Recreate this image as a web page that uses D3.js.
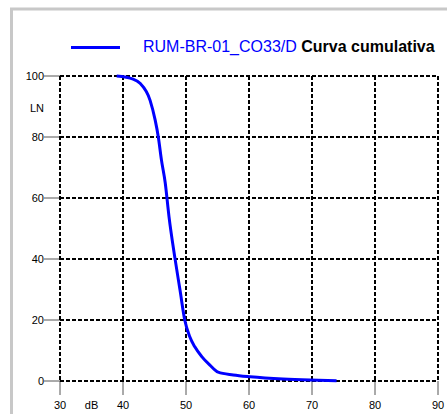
<!DOCTYPE html>
<meta charset="utf-8">
<style>
    body {
        margin: 0;
        background: #fff;
        font-family: "Liberation Sans", Arial, sans-serif;
    }

    .grid line {
        stroke: #000;
        stroke-width: 2;
        stroke-dasharray: 4, 2;
    }

    .tick-mark {
        stroke: #555;
        stroke-width: 1;
    }

    .tick-label {
        font-size: 11px;
        fill: #000;
    }
</style>

<body>
    <svg width="447" height="414"></svg>

    <script src="https://d3js.org/d3.v7.min.js"></script>
    <script>
        const dbValues = [39.0, 41.6, 42.7, 44.3, 45.1, 45.6, 46.1, 46.7, 47.3, 48.25, 49.05, 49.8, 50.6, 51.4, 52.5, 53.8, 55.1, 57.5, 60.2, 65.4, 69.7, 73.9];
        const lnValues = [100, 99, 97.6, 92, 85.6, 80.1, 72.5, 65, 53.9, 40.2, 29.8, 20, 14.5, 11.2, 8, 5.2, 2.9, 2.0, 1.4, 0.65, 0.3, 0.1];

        const xTicks = [30, 40, 50, 60, 70, 80, 90];
        const yTicks = [0, 20, 40, 60, 80, 100];

        const seriesName = "RUM-BR-01_CO33/D";
        const chartTitle = "Curva cumulativa";
        const xUnit = "dB";
        const yUnit = "LN";

        const svg = d3.select("svg");
        const margin = { top: 76, left: 60, right: 438, bottom: 381 };

        // cadre gris autour du graphique
        svg.append("rect")
            .attr("x", 11.5)
            .attr("y", 9)
            .attr("width", 460)
            .attr("height", 430)
            .attr("fill", "none")
            .attr("stroke", "#c8c8c8")
            .attr("stroke-width", 3);

        const x = d3.scaleLinear().domain([30, 90]).range([margin.left, margin.right]);
        const y = d3.scaleLinear().domain([0, 100]).range([margin.bottom, margin.top]);

        // graduations
        svg.append("g")
            .selectAll("line")
            .data(yTicks)
            .join("line")
            .attr("class", "tick-mark")
            .attr("x1", margin.left - 16)
            .attr("x2", margin.left)
            .attr("y1", d => y(d))
            .attr("y2", d => y(d));

        svg.append("g")
            .selectAll("line")
            .data(xTicks)
            .join("line")
            .attr("class", "tick-mark")
            .attr("x1", d => x(d))
            .attr("x2", d => x(d))
            .attr("y1", margin.bottom)
            .attr("y2", margin.bottom + 14);

        svg.append("g")
            .selectAll("text")
            .data(yTicks)
            .join("text")
            .attr("class", "tick-label")
            .attr("x", margin.left - 16)
            .attr("y", d => y(d))
            .attr("dy", "0.35em")
            .attr("text-anchor", "end")
            .text(d => d);

        svg.append("g")
            .selectAll("text")
            .data(xTicks)
            .join("text")
            .attr("class", "tick-label")
            .attr("x", d => x(d))
            .attr("y", margin.bottom + 28)
            .attr("text-anchor", "middle")
            .text(d => d);

        svg.append("text")
            .attr("class", "tick-label")
            .attr("x", x(35))
            .attr("y", margin.bottom + 28)
            .attr("text-anchor", "middle")
            .text(xUnit);

        svg.append("text")
            .attr("class", "tick-label")
            .attr("x", margin.left - 23)
            .attr("y", y(89.5))
            .attr("dy", "0.35em")
            .attr("text-anchor", "middle")
            .text(yUnit);

        // grille en pointillés
        const grid = svg.append("g").attr("class", "grid");
        grid.selectAll(".h")
            .data(yTicks)
            .join("line")
            .attr("class", "h")
            .attr("x1", margin.left)
            .attr("x2", margin.right)
            .attr("y1", d => y(d))
            .attr("y2", d => y(d));
        grid.selectAll(".v")
            .data(xTicks)
            .join("line")
            .attr("class", "v")
            .attr("x1", d => x(d))
            .attr("x2", d => x(d))
            .attr("y1", margin.top)
            .attr("y2", margin.bottom);

        // courbe
        const points = dbValues.map((d, i) => [d, lnValues[i]]);
        svg.append("path")
            .datum(points)
            .attr("fill", "none")
            .attr("stroke", "#0000ff")
            .attr("stroke-width", 3)
            .attr("stroke-linejoin", "round")
            .attr("d", d3.line().x(d => x(d[0])).y(d => y(d[1])).curve(d3.curveMonotoneX));

        // légende
        svg.append("line")
            .attr("x1", 71)
            .attr("x2", 120)
            .attr("y1", 47.5)
            .attr("y2", 47.5)
            .attr("stroke", "#0000ff")
            .attr("stroke-width", 3);

        const legend = svg.append("text")
            .attr("x", 143)
            .attr("y", 52)
            .style("font-size", "16px");
        legend.append("tspan").attr("fill", "#0000ff").text(seriesName + " ");
        legend.append("tspan").attr("fill", "#000").attr("font-weight", "bold").text(chartTitle);
    </script>
</body>
